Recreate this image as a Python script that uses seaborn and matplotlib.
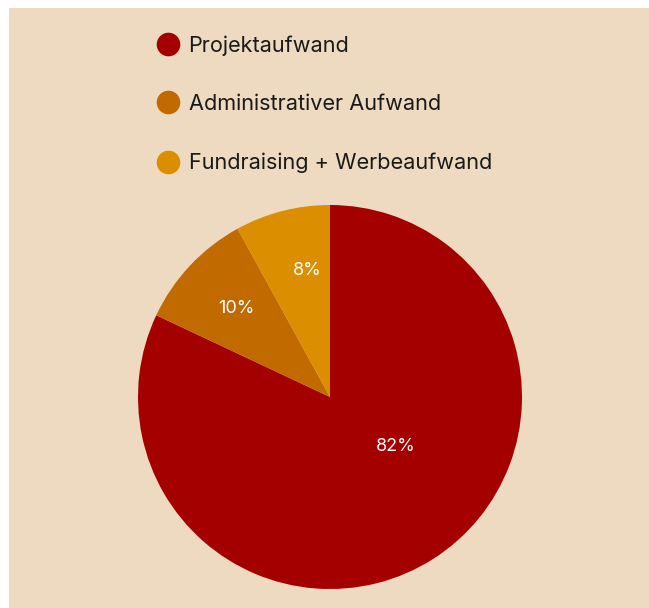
import matplotlib
matplotlib.use("Agg")
import matplotlib.pyplot as plt
import seaborn as sns
from matplotlib.lines import Line2D
from matplotlib.patches import Rectangle

# data
labels = ["Projektaufwand", "Administrativer Aufwand", "Fundraising + Werbeaufwand"]
shares = [82, 10, 8]
colors = ["#A50000", "#C06A00", "#DB8E00"]
bg = "#EDDAC0"

sns.set_theme(style="white")
plt.rcParams["font.family"] = ["Inter", "DejaVu Sans"]

fig = plt.figure(figsize=(6.49, 6.08), dpi=100)
fig.patch.set_facecolor("white")
fig.add_artist(Rectangle((9 / 649, 0), 1, 600 / 608, transform=fig.transFigure,
                         facecolor=bg, edgecolor="none", zorder=-10))

# pie axes: center (330, 397), radius 192 px
r = 192
cx, cy = 330, 608 - 397
ax = fig.add_axes([(cx - r) / 649, (cy - r) / 608, 2 * r / 649, 2 * r / 608])
ax.set_facecolor("none")
wedges, texts, autotexts = ax.pie(
    shares, colors=colors, startangle=90, counterclock=False,
    autopct="%d%%", pctdistance=0.67, radius=1,
    textprops=dict(color="white", fontsize=13),
    wedgeprops=dict(linewidth=0))
ax.set_xlim(-1, 1)
ax.set_ylim(-1, 1)
ax.set_aspect("equal")
# big slice label sits off its midline
autotexts[0].set_position((0.34, -0.26))
autotexts[2].set_position((-0.12, 0.66))

handles = [Line2D([0], [0], marker="o", linestyle="none", markersize=17,
                  markerfacecolor=c, markeredgecolor="none") for c in colors]
fig.legend(handles, labels, loc="upper left", bbox_to_anchor=(155 / 649, 1 - 35 / 608),
           frameon=False, fontsize=15.6, labelspacing=1.78, handletextpad=0.35,
           handlelength=1.2, borderaxespad=0, borderpad=0, labelcolor="#1a1a1a")

fig.savefig("out.png", dpi=100, facecolor=fig.get_facecolor())
